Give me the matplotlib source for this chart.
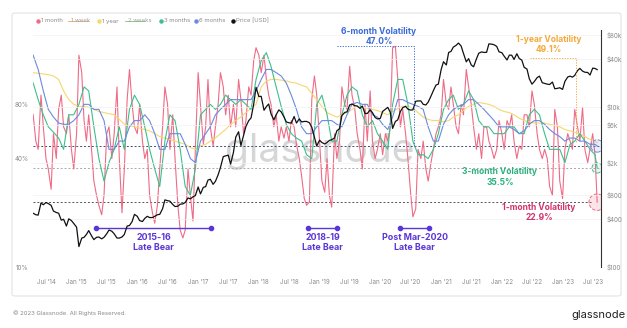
import matplotlib
matplotlib.use("Agg")
import matplotlib.pyplot as plt
import matplotlib.dates as mdates
from matplotlib.lines import Line2D
from matplotlib.patches import FancyBboxPatch
from matplotlib.ticker import FuncFormatter, NullLocator
from matplotlib.transforms import blended_transform_factory
import pandas as pd

plt.rcParams['font.family'] = ['Inter', 'DejaVu Sans']

# ---------------- data ----------------
start_semi = '2014-04-01'   # semi-monthly grid (1st / 15th)
start_month = '2014-04-01'  # monthly grid (mid-month)
last_date = '2023-07-28'

price_usd = [
    460, 470, 450, 445, 630, 600, 640, 620, 590, 500, 480, 470, 385, 395, 325, 400, 380, 350,           # 2014
    315, 180, 230, 235, 255, 285, 245, 220, 235, 237, 225, 235, 260, 290, 280, 260, 230, 230, 237, 255, 325, 330, 370, 455,  # 2015
    430, 380, 370, 405, 430, 415, 415, 430, 450, 455, 535, 690, 675, 665, 605, 570, 575, 610, 615, 640, 730, 710, 755, 780,  # 2016
    1000, 820, 990, 1010, 1220, 1250, 1080, 1180, 1420, 1750, 2400, 2450, 2500, 1930, 2700, 4200, 4900, 3300, 4400, 5700, 6750, 7300, 10900, 17600,  # 2017
    13500, 13600, 9100, 10100, 10900, 8200, 6900, 8000, 9200, 8700, 7500, 6500, 6350, 6300, 7600, 6300, 7100, 6500, 6600, 6600, 6350, 5600, 4200, 3250,  # 2018
    3850, 3600, 3450, 3600, 3820, 3900, 4100, 5050, 5350, 7800, 8550, 8700, 10600, 10900, 10400, 10300, 9600, 10300, 8300, 8300, 9200, 8500, 7400, 7100,  # 2019
    7200, 8800, 9400, 9900, 8600, 5400, 6600, 6900, 8800, 9800, 10200, 9400, 9150, 9200, 11800, 11900, 11900, 10800, 10600, 11500, 13700, 16000, 18800, 19300,  # 2020
    29400, 36800, 33500, 48000, 49500, 56000, 59000, 63000, 57800, 46800, 36700, 40200, 33500, 31800, 39900, 47000, 48800, 48100, 48200, 61500, 61000, 60000, 57200, 48900,  # 2021
    47700, 43100, 38700, 44500, 44400, 39300, 46300, 40500, 38500, 31300, 29800, 22500, 19300, 20800, 23300, 24300, 20100, 19700, 19300, 19100, 20500, 16900, 17100, 17400,  # 2022
    16600, 20900, 23700, 24300, 23600, 24800, 28500, 30400, 28100, 27200, 27000, 25100, 30600, 30300,  # 2023
]
price_last = 29300

vol_1m = [
    75, 70, 50, 45, 90, 60, 40, 35, 27, 55, 40, 75, 90, 60, 55, 70, 45, 35,  # 2014
    55, 150, 120, 65, 50, 70, 45, 30, 25, 22, 19.5, 25, 55, 60, 40, 55, 100, 40, 20, 35, 85, 125, 80, 60,  # 2015
    55, 80, 50, 40, 45, 25, 20, 17.5, 22, 35, 60, 100, 80, 45, 70, 40, 22, 16, 14.5, 16, 35, 25, 18, 45,  # 2016
    120, 80, 48, 60, 110, 60, 47, 60, 80, 120, 100, 70, 90, 60, 80, 60, 110, 85, 55, 65, 100, 90, 140, 165,  # 2017
    150, 120, 150, 110, 90, 80, 60, 70, 50, 60, 52, 60, 50, 65, 60, 48, 40, 32, 24, 22, 23, 85, 115, 90,  # 2018
    50, 30, 26, 40, 25, 21.5, 55, 40, 50, 100, 80, 75, 130, 90, 75, 55, 45, 35, 80, 50, 95, 50, 40, 45,  # 2019
    55, 42, 55, 50, 60, 165, 168, 110, 60, 75, 55, 40, 26, 19, 21, 45, 40, 50, 35, 30, 38, 45, 55, 60,  # 2020
    70, 110, 80, 75, 100, 80, 60, 55, 80, 70, 125, 100, 80, 60, 45, 55, 40, 60, 60, 50, 45, 40, 45, 65,  # 2021
    55, 45, 65, 60, 70, 50, 40, 47, 45, 70, 70, 60, 95, 80, 55, 45, 40, 45, 40, 28, 25, 75, 60, 30,  # 2022
    24, 45, 55, 50, 45, 75, 60, 50, 77, 45, 38, 45, 55, 42,  # 2023
]
vol_1m_last = 22.9

vol_3m = [
    105, 85, 70, 60, 56, 52, 45, 70, 70,
    80, 100, 95, 60, 40, 30, 38, 45, 60, 45, 75, 90,
    80, 60, 45, 35, 28, 50, 70, 65, 45, 28, 25, 35,
    70, 75, 80, 75, 80, 90, 85, 80, 85, 80, 75, 110,
    140, 155, 130, 100, 78, 62, 55, 52, 50, 42, 40, 80,
    90, 70, 50, 50, 70, 90, 100, 95, 70, 60, 65, 55,
    50, 45, 80, 110, 110, 80, 50, 42, 42, 40, 45, 55,
    75, 85, 90, 75, 80, 95, 85, 65, 60, 60, 55, 55,
    55, 60, 60, 55, 55, 70, 75, 70, 55, 45, 45, 45,
    38, 48, 50, 55, 50, 45, 42,
]
vol_3m_last = 35.5

vol_6m = [
    150, 125, 95, 75, 68, 63, 62, 62, 65,
    70, 80, 80, 75, 75, 65, 45, 45, 50, 50, 60, 65,
    65, 70, 65, 55, 45, 45, 55, 55, 55, 48, 40, 38,
    50, 55, 60, 70, 75, 80, 85, 85, 85, 85, 85, 95,
    110, 125, 125, 120, 115, 105, 90, 75, 60, 55, 55, 60,
    65, 65, 65, 62, 60, 70, 80, 82, 80, 80, 70, 68,
    62, 58, 68, 85, 85, 82, 80, 78, 75, 60, 50, 50,
    62, 70, 75, 78, 80, 85, 85, 80, 75, 70, 65, 60,
    60, 60, 58, 55, 57, 62, 65, 65, 62, 58, 55, 53,
    50, 52, 52, 50, 50, 48, 48,
]
vol_6m_last = 47.0

vol_1y = [
    120, 119, 118, 117, 115, 110, 95, 85, 80,
    78, 78, 77, 75, 73, 72, 71, 70, 66, 62, 61, 60,
    59, 58, 57, 55, 53, 52, 51, 50, 49, 48, 46, 45,
    47, 48, 50, 52, 55, 58, 62, 65, 68, 72, 76, 80,
    100, 108, 110, 110, 109, 108, 106, 105, 102, 100, 92, 85,
    78, 72, 70, 68, 70, 72, 75, 78, 77, 76, 75, 74,
    72, 70, 73, 76, 78, 78, 76, 72, 68, 66, 65, 65,
    64, 65, 68, 70, 74, 78, 80, 82, 81, 80, 78, 75,
    73, 72, 70, 67, 65, 64, 63, 63, 63, 62, 61, 60,
    58, 57, 56, 55, 53, 51, 50,
]
vol_1y_last = 49.1

bear_labels = ['2015-16', '2018-19', 'Post Mar-2020']
bear_starts = ['2015-04-28', '2018-10-24', '2020-04-29']
bear_ends = ['2017-03-20', '2019-04-16', '2020-10-20']

vol_ticks = [10, 40, 80]
vol_ticklabels = ['10%', '40%', '80%']
price_ticks = [100, 400, 800, 2000, 6000, 10000, 40000, 80000]
price_ticklabels = ['$100', '$400', '$800', '$2k', '$6k', '$10k', '$40k', '$80k']

# ---------------- build series ----------------
semi = pd.date_range(start_semi, periods=len(price_usd), freq='SMS')
monthly = pd.date_range(start_month, periods=len(vol_3m), freq='MS') + pd.Timedelta(days=14)
end = pd.Timestamp(last_date)


def extend(idx, vals, last):
    return list(idx) + [end], list(vals) + [last]


px_x, px_y = extend(semi, price_usd, price_last)
m1_x, m1_y = extend(semi, vol_1m, vol_1m_last)
m3_x, m3_y = extend(monthly, vol_3m, vol_3m_last)
m6_x, m6_y = extend(monthly, vol_6m, vol_6m_last)
y1_x, y1_y = extend(monthly, vol_1y, vol_1y_last)

C1M = '#ef6b86'
C3M = '#3dbf8c'
C6M = '#6b8ae0'
C1Y = '#f4d870'
CPX = '#111111'
CBEAR = '#5b36d6'

# ---------------- figure ----------------
W, H = 627, 328
fig = plt.figure(figsize=(6.27, 3.28), dpi=100)


def fx(x):
    return x / W


def fy(y):
    return 1 - y / H


card = FancyBboxPatch((fx(12), fy(296)), fx(621) - fx(12), fy(13) - fy(296),
                      boxstyle='round,pad=0,rounding_size=0.006', transform=fig.transFigure,
                      fc='white', ec='#e4e4e4', lw=0.8, zorder=-10)
fig.patches.append(card)

ax = fig.add_axes([fx(33), fy(267), fx(601) - fx(33), fy(30) - fy(267)])
ax.set_facecolor('none')
ax.set_yscale('log')
ax.set_ylim(10, 207)
ax.set_xlim(pd.Timestamp('2014-04-14'), pd.Timestamp('2023-08-20'))

ax2 = ax.twinx()
ax2.set_yscale('log')
ax2.set_ylim(100, 91700)
ax2.set_facecolor('none')

# watermark
ax.text(0.505, 0.445, 'glassnode', transform=ax.transAxes, fontsize=28,
        color='#d6d6d6', ha='center', va='baseline', zorder=0.5)

# gridlines
for t in price_ticks:
    ax2.axhline(t, color='#f1f1f1', lw=0.5, zorder=0)

# volatility lines
ax.plot(m1_x, m1_y, color=C1M, lw=0.8, zorder=2)
ax.plot(y1_x, y1_y, color=C1Y, lw=0.8, zorder=2.1)
ax.plot(m3_x, m3_y, color=C3M, lw=0.8, zorder=2.2)
ax.plot(m6_x, m6_y, color=C6M, lw=0.8, zorder=2.3)

# reference levels
ax.axhline(vol_6m_last, color='#3b4f7a', lw=0.7, ls=(0, (2, 2)), zorder=1.5)
ax.axhline(vol_3m_last, color='#a9a9a9', lw=0.7, ls=(0, (2, 2)), zorder=1.5)
ax.hlines(vol_1m_last, ax.get_xlim()[0], mdates.date2num(pd.Timestamp('2023-07-05')),
          color='#555555', lw=0.7, ls=(0, (2, 2)), zorder=1.5)

# end circles
ax.scatter([end], [vol_6m_last], s=80, facecolor=(0.42, 0.54, 0.88, 0.15), edgecolor=C6M,
           linestyle='--', lw=0.7, zorder=3)
ax.scatter([end], [vol_3m_last], s=55, facecolor=(0.24, 0.75, 0.55, 0.12), edgecolor=C3M,
           linestyle='--', lw=0.7, zorder=3)
ax.scatter([end], [vol_1m_last], s=140, facecolor=(0.94, 0.42, 0.53, 0.18), edgecolor=C1M,
           linestyle='--', lw=0.7, zorder=3)

# price
ax2.plot(px_x, px_y, color=CPX, lw=0.9, zorder=3)

# bear periods
tr = blended_transform_factory(ax.transData, ax.transAxes)
ybar = (267 - 228) / 237
for lab, s, e in zip(bear_labels, bear_starts, bear_ends):
    xs = [pd.Timestamp(s), pd.Timestamp(e)]
    ax.plot(xs, [ybar, ybar], transform=tr, color=CBEAR, lw=1.0, marker='o', ms=3, zorder=4,
            clip_on=False)
    xm = pd.Timestamp(s) + (pd.Timestamp(e) - pd.Timestamp(s)) / 2
    ax.text(xm, ybar - 10 / 237, lab, transform=tr, ha='center', va='center', fontsize=6.4,
            fontweight='bold', color=CBEAR)
    ax.text(xm, ybar - 20 / 237, 'Late Bear', transform=tr, ha='center', va='center', fontsize=6.4,
            fontweight='bold', color=CBEAR)

# axes styling
for a in (ax, ax2):
    for sp in a.spines.values():
        sp.set_visible(False)
ax2.spines['right'].set_visible(True)
ax2.spines['right'].set_color('#333333')
ax2.spines['right'].set_linewidth(0.8)

ax.set_yticks(vol_ticks)
ax.set_yticklabels(vol_ticklabels)
ax.yaxis.set_minor_locator(NullLocator())
ax2.set_yticks(price_ticks)
ax2.set_yticklabels(price_ticklabels)
ax2.yaxis.set_minor_locator(NullLocator())
ax.tick_params(axis='y', length=0, labelsize=4.5, labelcolor='#8a8a8a', pad=3)
ax2.tick_params(axis='y', length=0, labelsize=4.5, labelcolor='#8a8a8a', pad=4)

ax.xaxis.set_major_locator(mdates.MonthLocator(bymonth=[1, 7]))
ax.xaxis.set_major_formatter(FuncFormatter(
    lambda v, p: mdates.num2date(v).strftime("%b '%y")))
ax.tick_params(axis='x', length=0, labelsize=4.5, labelcolor='#8a8a8a', pad=8.5)


# ---------------- annotations (figure pixels) ----------------
def ftext(x, y, s, **kw):
    fig.text(fx(x), fy(y), s, ha='center', va='center', **kw)


def fline(xs, ys, **kw):
    fig.add_artist(Line2D([fx(x) for x in xs], [fy(y) for y in ys], transform=fig.transFigure, **kw))


FS = 6.1
ftext(379, 31, '6-month Volatility', fontsize=FS, fontweight='bold', color='#3a6bd6')
ftext(379, 41, '47.0%', fontsize=FS, fontweight='bold', color='#3a6bd6')
fline([337, 414, 414], [46, 46, 146], color='#3a6bd6', lw=0.7, ls=(0, (1.2, 1.5)))

ftext(549, 40, '1-year Volatility', fontsize=FS, fontweight='bold', color='#f5a93a')
ftext(549, 50, '49.1%', fontsize=FS, fontweight='bold', color='#f5a93a')
fline([530, 576, 576], [58, 58, 142], color='#f5a93a', lw=0.7, ls=(0, (1.2, 1.5)))

ftext(500, 172, '3-month Volatility', fontsize=FS, fontweight='bold', color='#2bb27c')
ftext(500, 182, '35.5%', fontsize=FS, fontweight='bold', color='#2bb27c')

ftext(539, 208, '1-month Volatility', fontsize=FS, fontweight='bold', color='#d3336d')
ftext(539, 218, '22.9%', fontsize=FS, fontweight='bold', color='#d3336d')

# legend
leg_y = 21
legend_items = [
    (38, '1 month', C1M, False),
    (68, '1 week', '#e8a35c', True),
    (99, '1 year', C1Y, False),
    (125, '2 weeks', '#7cc46a', True),
    (161, '3 months', C3M, False),
    (196, '6 months', C6M, False),
    (233, 'Price [USD]', CPX, False),
]
for x, lab, col, hidden in legend_items:
    if hidden:
        fig.text(fx(x + 3), fy(leg_y), lab, fontsize=4.3, color='#a0a0a0', ha='left', va='center')
        fline([x, x + 20], [leg_y, leg_y], color=col, lw=0.6)
    else:
        fig.add_artist(Line2D([fx(x)], [fy(leg_y)], marker='o', ms=2.2, color=col,
                              transform=fig.transFigure, ls='none'))
        fig.text(fx(x + 3), fy(leg_y), lab, fontsize=4.3, color='#8a8a8a', ha='left', va='center')

# footer
fig.text(fx(13), fy(313), '\u00a9 2023 Glassnode. All Rights Reserved.', fontsize=4.3,
         color='#8a8a8a', ha='left', va='center')
fig.text(fx(626), fy(315), 'glassnode', fontsize=8, color='#222222', ha='right', va='center')

fig.savefig('out.png', dpi=100)
